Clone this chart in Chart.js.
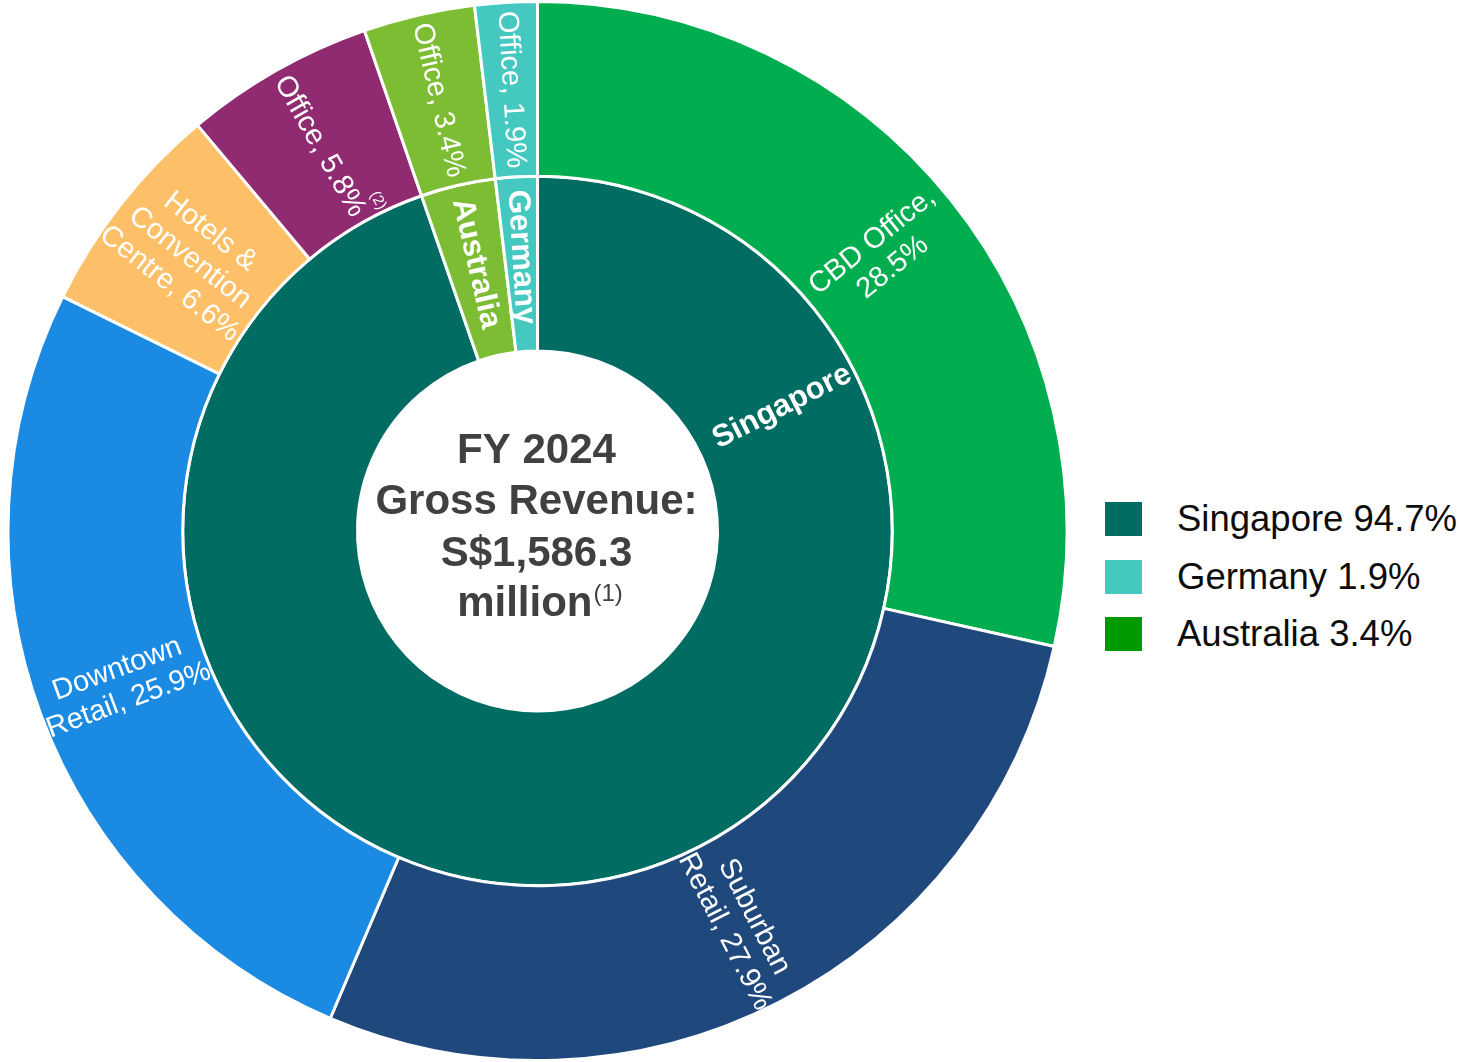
<!DOCTYPE html>
<html>
<head>
<meta charset="utf-8">
<script src="https://cdn.jsdelivr.net/npm/chart.js@4"></script>
<style>
  body { margin: 0; background: #fff; font-family: "Liberation Sans", Arial, sans-serif; }
  #wrap { position: absolute; left: 0; top: 0; width: 1075px; height: 1062px; }
  #legend { position: absolute; left: 1105px; top: 502px; }
  .row { display: flex; align-items: center; height: 34px; margin-bottom: 23.5px; }
  .box { width: 37px; height: 34px; margin-right: 35px; }
  .row span { font-size: 36.5px; color: #0d0d0d; white-space: nowrap; }
</style>
</head>
<body>
<div id="wrap"><canvas id="revChart"></canvas></div>
<div id="legend"></div>
<script>
// outer ring: segments, clockwise from 12 o'clock
const segLabels = ['CBD Office', 'Suburban Retail', 'Downtown Retail', 'Hotels & Convention Centre', 'Office (SG)', 'Office (AU)', 'Office (DE)'];
const segValues = [28.5, 27.9, 25.9, 6.6, 5.8, 3.4, 1.9];
const segColors = ['#00AE4F', '#1F497D', '#1B8AE2', '#FDC068', '#902A71', '#7CBD33', '#44C8C0'];
const segText = [
  ['CBD Office,', '28.5%'],
  ['Suburban', 'Retail, 27.9%'],
  ['Downtown', 'Retail, 25.9%'],
  ['Hotels &', 'Convention', 'Centre, 6.6%'],
  ['Office, 5.8%'],
  ['Office, 3.4%'],
  ['Office, 1.9%']
];
const segSup = [null, null, null, null, '(2)', null, null];
const segDir = ['out', 'out', 'in', 'in', 'in', 'in', 'in'];

// inner ring: geography
const geoLabels = ['Singapore', 'Australia', 'Germany'];
const geoValues = [94.7, 3.4, 1.9];
const geoColors = ['#006C62', '#7CBD33', '#44C8C0'];
const geoDir = ['out', 'in', 'in'];
const geoLabelAt = [0.185, 0.5, 0.5]; // where along the arc the label sits

// legend (order as in the picture)
const legendNames = ['Singapore 94.7%', 'Germany 1.9%', 'Australia 3.4%'];
const legendColors = ['#006C62', '#44C8C0', '#009900'];

const centerLines = ['FY 2024', 'Gross Revenue:', 'S$1,586.3', 'million'];

const FONT = '"Liberation Sans", Arial, sans-serif';

function drawLabel(ctx, arc, lines, sup, dir, at, radFrac, font, lineH) {
  const p = arc.getProps(['x', 'y', 'startAngle', 'endAngle', 'innerRadius', 'outerRadius'], true);
  const a = p.startAngle + (p.endAngle - p.startAngle) * at;
  const r = p.innerRadius + (p.outerRadius - p.innerRadius) * radFrac;
  const rot = dir === 'in' ? a + Math.PI : a;
  ctx.save();
  ctx.translate(p.x + Math.cos(a) * r, p.y + Math.sin(a) * r);
  ctx.rotate(rot);
  ctx.fillStyle = '#fff';
  ctx.font = font;
  ctx.textAlign = 'center';
  ctx.textBaseline = 'middle';
  lines.forEach((t, j) => {
    const yy = (j - (lines.length - 1) / 2) * lineH;
    ctx.fillText(t, 0, yy);
    if (sup && j === lines.length - 1) {
      const w = ctx.measureText(t).width;
      ctx.save();
      ctx.font = '15px ' + FONT;
      ctx.textAlign = 'left';
      ctx.fillText(sup, w / 2 - 12, yy - 24);
      ctx.restore();
    }
  });
  ctx.restore();
}

const ringLabels = {
  id: 'ringLabels',
  afterDatasetsDraw(chart) {
    const ctx = chart.ctx;
    chart.getDatasetMeta(0).data.forEach((arc, i) => {
      drawLabel(ctx, arc, segText[i], segSup[i], segDir[i], 0.5, 0.5, '29px ' + FONT, 33);
    });
    chart.getDatasetMeta(1).data.forEach((arc, i) => {
      drawLabel(ctx, arc, [geoLabels[i]], null, geoDir[i], geoLabelAt[i], 0.54, 'bold 31px ' + FONT, 34);
    });

    // centre text
    const arc0 = chart.getDatasetMeta(1).data[0];
    const cx = arc0.x, cy = arc0.y;
    ctx.save();
    ctx.fillStyle = '#404040';
    ctx.font = 'bold 42px ' + FONT;
    ctx.textBaseline = 'alphabetic';
    ctx.textAlign = 'center';
    const offs = [-68, -17, 35, 85];
    centerLines.slice(0, 3).forEach((t, j) => ctx.fillText(t, cx - 1, cy + offs[j]));
    const w = ctx.measureText(centerLines[3]).width;
    ctx.font = '24px ' + FONT;
    const s = ctx.measureText('(1)').width;
    const x0 = cx + 2 - (w + s) / 2;
    ctx.textAlign = 'left';
    ctx.fillText('(1)', x0 + w + 1, cy + offs[3] - 15);
    ctx.font = 'bold 42px ' + FONT;
    ctx.fillText(centerLines[3], x0, cy + offs[3]);
    ctx.restore();
  }
};

new Chart(document.getElementById('revChart'), {
  type: 'doughnut',
  data: {
    labels: segLabels,
    datasets: [
      { data: segValues, backgroundColor: segColors, borderColor: '#fff', borderWidth: 3 },
      { data: geoValues, backgroundColor: geoColors, borderColor: '#fff', borderWidth: 3 }
    ]
  },
  options: {
    responsive: true,
    maintainAspectRatio: false,
    animation: false,
    cutout: '34%',
    layout: { padding: 0 },
    plugins: { legend: { display: false }, tooltip: { enabled: false } }
  },
  plugins: [ringLabels]
});

// legend
const lg = document.getElementById('legend');
legendNames.forEach((n, i) => {
  lg.innerHTML += `<div class="row"><div class="box" style="background:${legendColors[i]}"></div><span>${n}</span></div>`;
});
</script>
</body>
</html>
